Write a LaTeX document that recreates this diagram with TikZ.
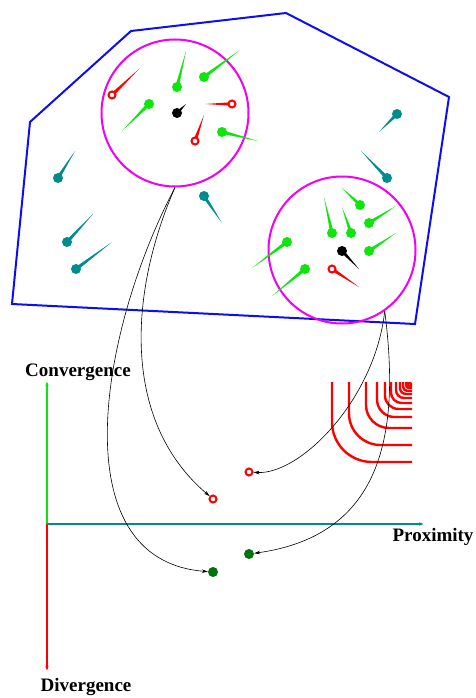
\documentclass[tikz,border=0pt]{standalone}
\usepackage{fontspec}
\setmainfont{Liberation Serif}
\usetikzlibrary{arrows.meta, calc}

\definecolor{hullblue}{rgb}{0.05,0.05,0.95}
\definecolor{ballgreen}{rgb}{0.05,0.9,0.05}
\definecolor{ballteal}{rgb}{0.0,0.55,0.55}
\definecolor{darkgreen}{rgb}{0.0,0.45,0.05}
\definecolor{hoodpink}{rgb}{0.95,0.0,0.95}

% a ball with a tapered tail: name, colour, ball at, tail tip at
\newcommand{\needle}[4]{%
  \coordinate (#1 c) at (#3);
  \coordinate (#1 tip) at (#4);
  \fill[#2] ($(#1 c)!1.8pt!90:(#1 tip)$) -- (#1 tip)
            -- ($(#1 c)!1.8pt!-90:(#1 tip)$) -- cycle;
  \node[dot, fill=#2] (#1) at (#1 c) {};
}
% same, with an open ring instead of a ball
\newcommand{\ringneedle}[4]{%
  \coordinate (#1 c) at (#3);
  \coordinate (#1 tip) at (#4);
  \fill[#2] ($(#1 c)!1.8pt!90:(#1 tip)$) -- (#1 tip)
            -- ($(#1 c)!1.8pt!-90:(#1 tip)$) -- cycle;
  \node[ring, draw=#2] (#1) at (#1 c) {};
}

\begin{document}
\begin{tikzpicture}[
  x=1pt, y=-1pt,
  dot/.style={circle, inner sep=0pt, minimum size=10pt},
  ring/.style={circle, fill=white, line width=2pt, inner sep=0pt, minimum size=7pt},
  cluster/.style={circle, draw=hoodpink, line width=2pt, inner sep=0pt, minimum size=147pt},
  axis/.style={line width=2pt, -{Latex[length=6pt, width=3.5pt]}},
  link/.style={draw=black, line width=0.6pt, -{Stealth[length=6pt, width=3.5pt]}},
  label/.style={font=\fontsize{19}{22}\selectfont\bfseries},
]
\useasboundingbox (0,0) rectangle (475,698);

% ---- the hull -------------------------------------------------------------
\draw[hullblue, line width=2pt, line join=miter]
  (131,31) -- (286,13) -- (449,97) -- (415,324) -- (12,304) -- (30,122) -- cycle;

% ---- the two neighbourhoods -----------------------------------------------
\node[cluster] (clusterA) at (175,113) {};
\node[cluster] (clusterB) at (342,250) {};

% loose teal members
\needle{t1}{ballteal}{58,178}{75,151}
\needle{t2}{ballteal}{67,242}{93,214}
\needle{t3}{ballteal}{76,269}{112,242}
\needle{t4}{ballteal}{397,114}{379,132}
\needle{t5}{ballteal}{387,178}{361,151}
\needle{t6}{ballteal}{204,196}{222,223}

% first neighbourhood
\needle{a1}{ballgreen}{177,87}{186,51}
\needle{a2}{ballgreen}{204,77}{240,50}
\needle{a3}{ballgreen}{149,104}{122,131}
\needle{a4}{ballgreen}{222,132}{258,141}
\ringneedle{a5}{red}{112,95}{139,69}
\ringneedle{a6}{red}{232,104}{205,104}
\ringneedle{a7}{red}{195,141}{204,115}
\needle{a0}{black}{177,113}{186,104}

% second neighbourhood
\needle{b1}{ballgreen}{332,233}{324,197}
\needle{b2}{ballgreen}{351,233}{342,207}
\needle{b3}{ballgreen}{360,205}{342,188}
\needle{b4}{ballgreen}{369,223}{396,206}
\needle{b5}{ballgreen}{369,251}{396,233}
\needle{b6}{ballgreen}{287,242}{252,268}
\needle{b7}{ballgreen}{305,269}{272,296}
\ringneedle{b8}{red}{332,269}{359,287}
\needle{b0}{black}{342,251}{359,269}

% ---- the axes -------------------------------------------------------------
\coordinate (origin) at (47,524);
\coordinate (convEnd) at (47,380);
\coordinate (divEnd) at (47,672);
\coordinate (proxEnd) at (425,524);
\draw[axis, ballgreen] (origin) -- (convEnd);
\draw[axis, red] (origin) -- (divEnd);
\draw[axis, ballteal] (origin) -- (proxEnd);

\node[label] (convLabel) at (78,372) {Convergence};
\node[label] (divLabel) at (86,687) {Divergence};
\node[label] (proxLabel) at (433,537) {Proximity};

% level curves in the corner
\foreach \d [evaluate=\d as \r using 0.5*\d] in {80,63,46,35,27,21,16,12,9,6,4,2}
  \draw[red, line width=2.4pt, rounded corners=\r pt] (412-\d,382) |- (412,382+\d);

% ---- projected points -----------------------------------------------------
\node[ring, draw=red] (r1) at (213,499) {};
\node[ring, draw=red] (r2) at (249,472) {};
\node[dot, fill=darkgreen] (g1) at (213,572) {};
\node[dot, fill=darkgreen] (g2) at (249,554) {};

\draw[link] (clusterA.south) .. controls (100,330) and (60,560) .. (g1);
\draw[link] (clusterA.south) .. controls (130,290) and (120,420) .. (r1);
\draw[link] (clusterB.-55) .. controls (375,400) and (300,475) .. (r2);
\draw[link] (clusterB.-55) .. controls (400,430) and (385,535) .. (g2);

\end{tikzpicture}
\end{document}
